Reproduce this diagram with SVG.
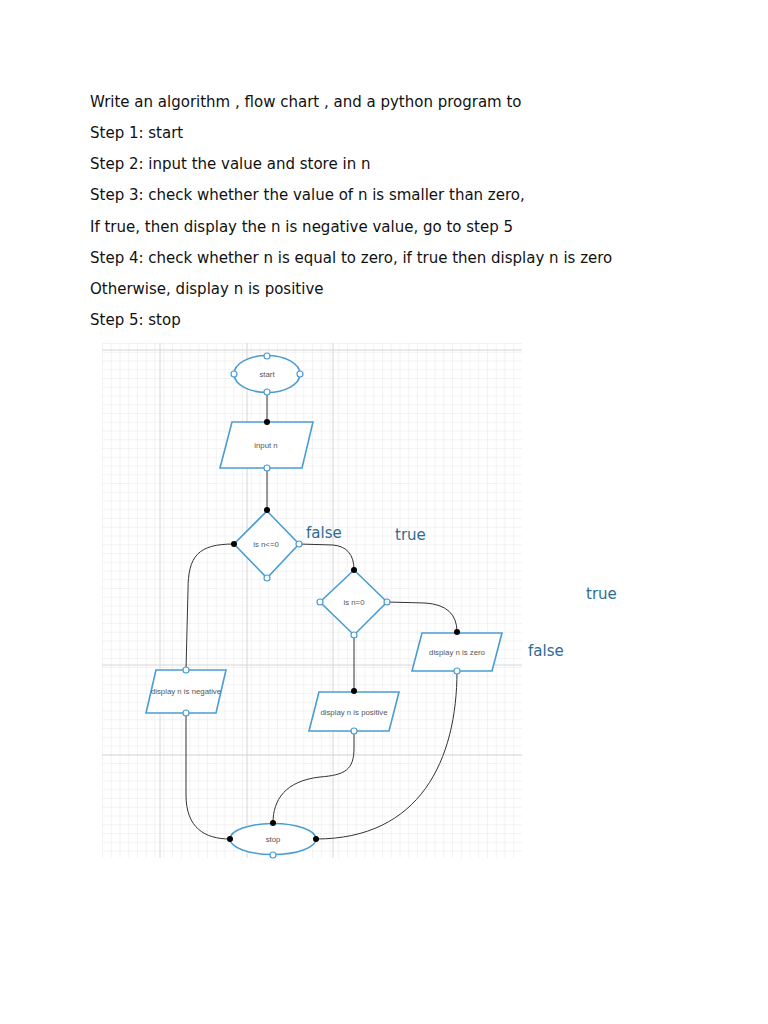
<svg xmlns="http://www.w3.org/2000/svg" width="768" height="1024" viewBox="0 0 768 1024">
<defs>
<pattern id="minor" x="102" y="343" width="8.75" height="8.75" patternUnits="userSpaceOnUse">
<path d="M0,0 H8.75 M0,0 V8.75" fill="none" stroke="#e8e8e8" stroke-width="1"/>
</pattern>
</defs>
<style>
.hdr{font-family:"DejaVu Sans",sans-serif;font-size:15px;fill:#111}
.lbl{font-family:"DejaVu Sans",sans-serif;font-size:15px;fill:#2d6c94}
.shape{fill:#fff;stroke:#4a9dd3;stroke-width:1.6}
.txt{font-family:"Liberation Sans",Arial,sans-serif;font-size:7.8px;fill:#555;text-anchor:middle}
.conn{fill:none;stroke:#333;stroke-width:1}
.dot{fill:#000}
.hol{fill:#fff;stroke:#4a9dd3;stroke-width:1.2}
.major{stroke:#d6d6d6;stroke-width:1}
</style>
<rect width="768" height="1024" fill="#fff"/>
<g id="header">
<text class="hdr" x="90" y="107">Write an algorithm , flow chart , and a python program to</text>
<text class="hdr" x="90" y="138">Step 1: start</text>
<text class="hdr" x="90" y="169">Step 2: input the value and store in n</text>
<text class="hdr" x="90" y="200">Step 3: check whether the value of n is smaller than zero,</text>
<text class="hdr" x="90" y="232">If true, then display the n is negative value, go to step 5</text>
<text class="hdr" x="90" y="263">Step 4: check whether n is equal to zero, if true then display n is zero</text>
<text class="hdr" x="90" y="294">Otherwise, display n is positive</text>
<text class="hdr" x="90" y="325">Step 5: stop</text>
</g>
<g id="grid">
<rect x="102" y="343" width="420" height="515" fill="url(#minor)"/>
<path class="major" d="M160,343 V858 M247,343 V858 M333,343 V858 M102,350 H522 M102,665 H522 M102,755 H522"/>
</g>
<g id="connectors">
<path class="conn" d="M267,392 V422"/>
<path class="conn" d="M267,468 V510"/>
<path class="conn" d="M299,544 L333,545 Q354,547 354,570"/>
<path class="conn" d="M387,602 L425,603 Q457,605 457,632"/>
<path class="conn" d="M234,544 C198,544 188,556 188,590 L186,670"/>
<path class="conn" d="M354,636 V691"/>
<path class="conn" d="M186,713 L186,795 C186,828 205,839 230,839"/>
<path class="conn" d="M354,731 L354,748 C354,770 345,775 320,777 C285,781 273,800 273,823"/>
<path class="conn" d="M457,671 C457,760 420,839 316,839"/>
</g>
<g id="start">
<ellipse class="shape" cx="267" cy="374" rx="33" ry="18.5"/>
<text class="txt" x="267" y="377">start</text>
<circle class="hol" cx="267" cy="356" r="3"/>
<circle class="hol" cx="234" cy="374" r="3"/>
<circle class="hol" cx="300" cy="374" r="3"/>
<circle class="hol" cx="267" cy="392" r="3"/>
</g>
<g id="input">
<polygon class="shape" points="232,422 313,422 302,468 220,468"/>
<text class="txt" x="266" y="448">input n</text>
<circle class="dot" cx="267" cy="422" r="3"/>
<circle class="hol" cx="267" cy="468" r="3"/>
</g>
<g id="decision1">
<polygon class="shape" points="267,511 299,544 267,578 234,544"/>
<text class="txt" x="266" y="547">is n&lt;=0</text>
<circle class="dot" cx="267" cy="510" r="3"/>
<circle class="dot" cx="234" cy="544" r="3"/>
<circle class="hol" cx="299" cy="544" r="3"/>
<circle class="hol" cx="267" cy="578" r="3"/>
</g>
<g id="decision2">
<polygon class="shape" points="354,570 387,602 354,635 320,602"/>
<text class="txt" x="354" y="605">is n=0</text>
<circle class="dot" cx="354" cy="570" r="3"/>
<circle class="hol" cx="320" cy="602" r="3"/>
<circle class="hol" cx="387" cy="602" r="3"/>
<circle class="hol" cx="354" cy="635" r="3"/>
</g>
<g id="zero">
<polygon class="shape" points="422,633 502,633 492,671 412,671"/>
<text class="txt" x="457" y="655">display n is zero</text>
<circle class="dot" cx="457" cy="632" r="3"/>
<circle class="hol" cx="457" cy="671" r="3"/>
</g>
<g id="negative">
<polygon class="shape" points="156,670 226,670 216,713 146,713"/>
<text class="txt" x="186" y="694">display n is negative</text>
<circle class="hol" cx="186" cy="670" r="3"/>
<circle class="hol" cx="186" cy="713" r="3"/>
</g>
<g id="positive">
<polygon class="shape" points="319,692 399,692 389,731 309,731"/>
<text class="txt" x="354" y="715">display n is positive</text>
<circle class="dot" cx="354" cy="691" r="3"/>
<circle class="hol" cx="354" cy="731" r="3"/>
</g>
<g id="stop">
<ellipse class="shape" cx="273" cy="839" rx="43" ry="15.5"/>
<text class="txt" x="273" y="842">stop</text>
<circle class="dot" cx="273" cy="823" r="3"/>
<circle class="dot" cx="230" cy="839" r="3"/>
<circle class="dot" cx="316" cy="839" r="3"/>
<circle class="hol" cx="273" cy="855" r="3"/>
</g>
<g id="labels">
<text class="lbl" x="306" y="538">false</text>
<text class="lbl" x="395" y="540">true</text>
<text class="lbl" x="586" y="599">true</text>
<text class="lbl" x="528" y="656">false</text>
</g>
</svg>
